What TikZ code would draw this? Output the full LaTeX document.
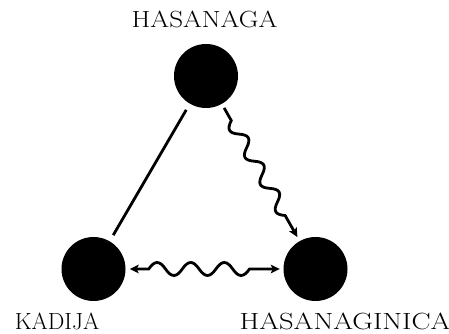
\documentclass[tikz,border=0pt]{standalone}
\usepackage{graphicx}
\usetikzlibrary{decorations,arrows.meta}
\pgfdeclaredecoration{halfwaves}{up}{%
  \state{up}[width=\pgfdecorationsegmentlength, next state=down]{%
    \pgfpathcurveto
      {\pgfqpoint{0.36\pgfdecorationsegmentlength}{1.333\pgfdecorationsegmentamplitude}}
      {\pgfqpoint{0.64\pgfdecorationsegmentlength}{1.333\pgfdecorationsegmentamplitude}}
      {\pgfqpoint{\pgfdecorationsegmentlength}{0pt}}%
  }%
  \state{down}[width=\pgfdecorationsegmentlength, next state=up]{%
    \pgfpathcurveto
      {\pgfqpoint{0.36\pgfdecorationsegmentlength}{-1.333\pgfdecorationsegmentamplitude}}
      {\pgfqpoint{0.64\pgfdecorationsegmentlength}{-1.333\pgfdecorationsegmentamplitude}}
      {\pgfqpoint{\pgfdecorationsegmentlength}{0pt}}%
  }%
  \state{final}{\pgfpathlineto{\pgfpointdecoratedpathlast}}%
}
\tikzset{
  person/.style={circle, fill=black, minimum size=64pt, inner sep=0pt},
  lbl/.style={font=\fontsize{23.4}{28}\selectfont, anchor=base, inner sep=0pt},
  conn/.style={line width=2.8pt, >={Stealth[length=9pt,width=8.5pt,inset=2pt]}},
  wavy/.style n args={4}{decorate, decoration={halfwaves, segment length=#1, amplitude=#2, pre length=#3, post length=#4}}
}
\begin{document}
\begin{tikzpicture}[x=1pt,y=1pt]
\useasboundingbox (0,0) rectangle (449,334);
\node[person] (hga) at (206,258) {};
\node[person] (kad) at (93.5,65) {};
\node[person] (hgc) at (315.5,65) {};
\node[lbl] (lhga) at (204.5,306) {\scalebox{1.16}[1]{HASANAGA}};
\node[lbl] (lkad) at (57,5) {\scalebox{1.0}[1]{KADIJA}};
\node[lbl] (lhgc) at (345,5) {\scalebox{1.22}[1]{HASANAGINICA}};
\draw[conn, shorten <=7pt, shorten >=7pt] (hga) -- (kad);
\draw[conn, ->, wavy={15.6pt}{-6.3pt}{19pt}{28pt}, shorten <=4.5pt, shorten >=4.5pt] (hga) -- (hgc);
\draw[conn, <->, wavy={16.8pt}{6.5pt}{23pt}{17pt}, shorten <=4pt, shorten >=3.5pt] (kad) -- (hgc);
\end{tikzpicture}
\end{document}
